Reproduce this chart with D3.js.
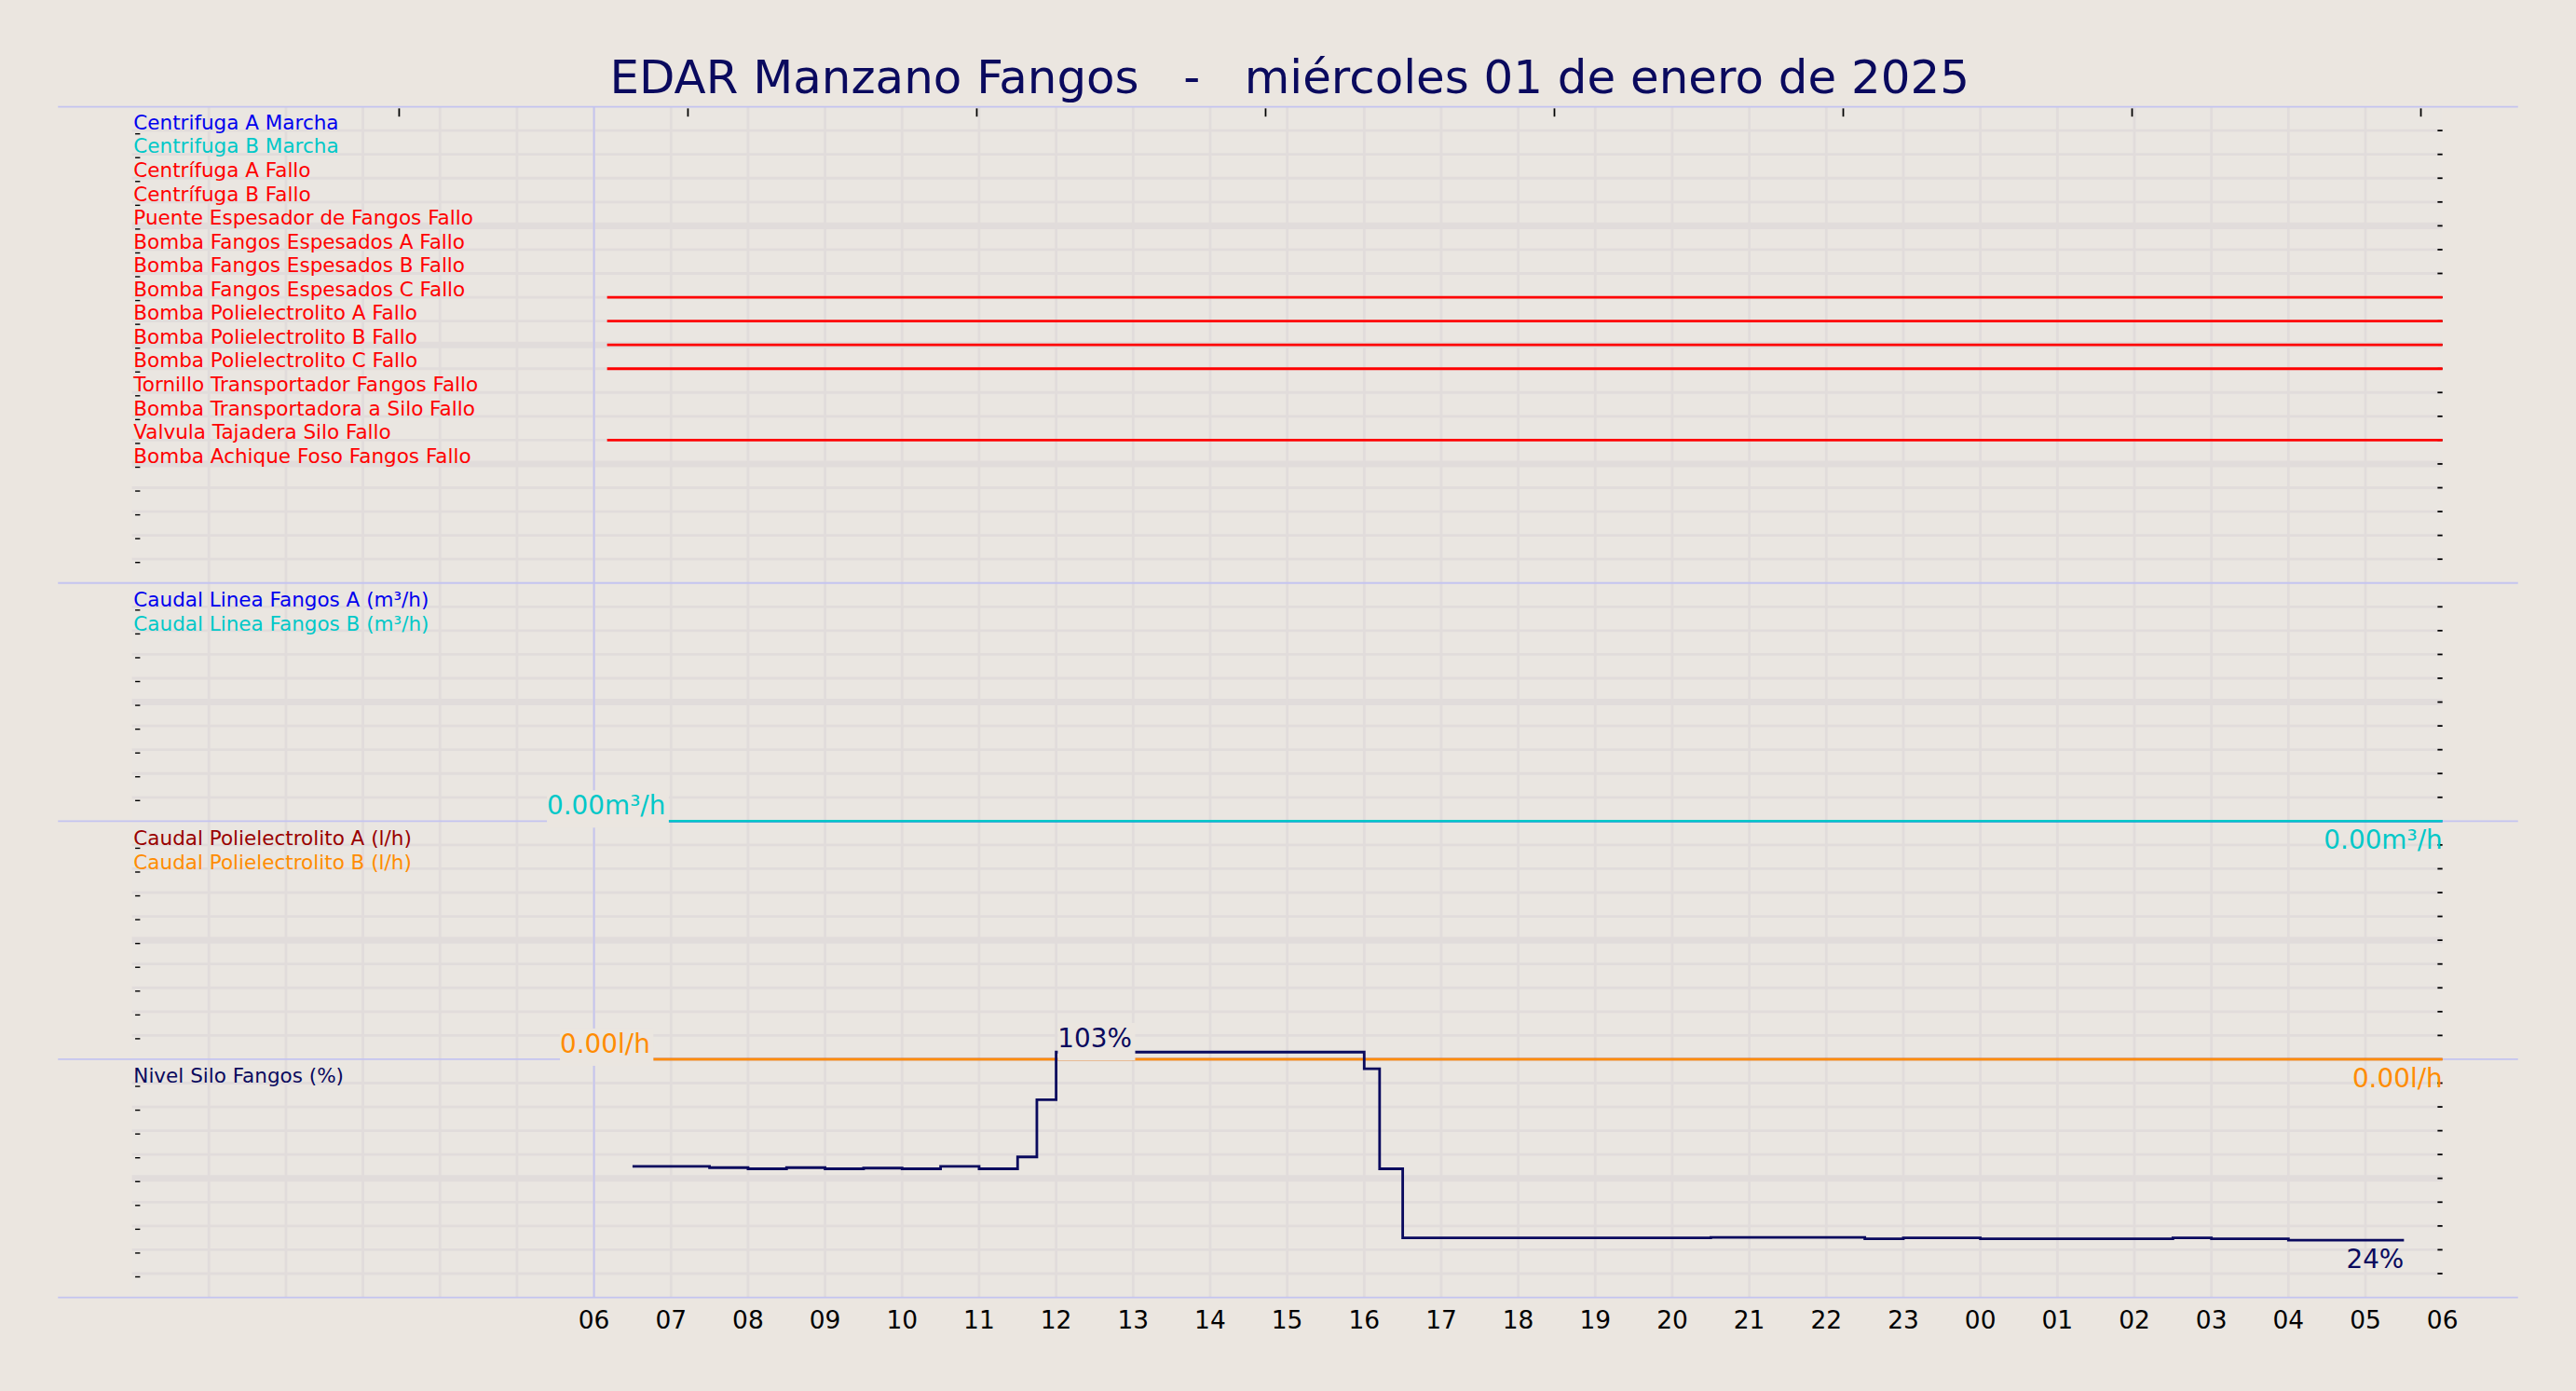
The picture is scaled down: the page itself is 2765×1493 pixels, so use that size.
<!DOCTYPE html>
<html><head><meta charset="utf-8">
<script src="https://cdn.jsdelivr.net/npm/d3@7"></script>
<style>html,body{margin:0;padding:0;background:#ebe6e0;}</style>
</head><body>
<script>
const title = "EDAR Manzano Fangos   -   miércoles 01 de enero de 2025";
const digitalNames = ["Centrifuga A Marcha","Centrifuga B Marcha","Centrífuga A Fallo","Centrífuga B Fallo","Puente Espesador de Fangos Fallo","Bomba Fangos Espesados A Fallo","Bomba Fangos Espesados B Fallo","Bomba Fangos Espesados C Fallo","Bomba Polielectrolito A Fallo","Bomba Polielectrolito B Fallo","Bomba Polielectrolito C Fallo","Tornillo Transportador Fangos Fallo","Bomba Transportadora a Silo Fallo","Valvula Tajadera Silo Fallo","Bomba Achique Foso Fangos Fallo"];
const digitalColors = ["#0000ee","#00c8c8","#ff0000","#ff0000","#ff0000","#ff0000","#ff0000","#ff0000","#ff0000","#ff0000","#ff0000","#ff0000","#ff0000","#ff0000","#ff0000"];
const digitalActive = [null,null,null,null,null,null,null,[6.17,30],[6.17,30],[6.17,30],[6.17,30],null,null,[6.17,30],null];
const flowNames = ["Caudal Linea Fangos A (m³/h)","Caudal Linea Fangos B (m³/h)"];
const flowColors = ["#0000ee","#00c8c8"];
const flowValues = [[6.95,0],[30,0]];
const polyNames = ["Caudal Polielectrolito A (l/h)","Caudal Polielectrolito B (l/h)"];
const polyColors = ["#990000","#ff8c00"];
const polyValues = [[6.75,0],[30,0]];
const siloName = "Nivel Silo Fangos (%)";
const siloTimes = [6.5,7.5,8.0,8.5,9.0,9.5,10.0,10.5,11.0,11.5,11.75,12.0,16.0,16.2,16.5,20.5,22.5,23.0,24.0,26.5,27.0,28.0,29.5];
const siloValues= [55,54.5,54,54.5,54,54.3,54,55,54,59,83,103,96,54,25,25.2,24.6,25,24.6,25,24.6,24,24];
const hourLabels = ["06","07","08","09","10","11","12","13","14","15","16","17","18","19","20","21","22","23","00","01","02","03","04","05","06"];

const W=1568,H=847;
const svg=d3.select("body").append("svg").attr("width",2765).attr("height",1493)
  .attr("viewBox",`0 0 ${W} ${H}`).style("font-family","DejaVu Sans");
svg.append("rect").attr("width",W).attr("height",H).attr("fill","#ebe6e0");
const L=80,R=1487;
const x=d3.scaleLinear().domain([0,30]).range([L,R]);
const panels=[[65,355,20],[355,500,10],[500,645,10],[645,790,10]];
const bg=svg.append("g");
bg.append("rect").attr("x",L).attr("y",65).attr("width",R-L).attr("height",725).attr("fill","#eae6e1");
for(const [t,b,n] of panels){
  const ys=d3.scaleLinear().domain([0,n]).range([t,b]);
  for(let i=1;i<n;i++){
    bg.append("line").attr("x1",L).attr("x2",R).attr("y1",ys(i)).attr("y2",ys(i))
      .attr("stroke","#e1dcdb").attr("stroke-width",i%5===0?4:1.6);
    bg.append("line").attr("x1",R-3).attr("x2",R).attr("y1",ys(i)).attr("y2",ys(i)).attr("stroke","#000").attr("stroke-width",1);
    bg.append("line").attr("x1",L+2).attr("x2",L+5).attr("y1",ys(i)+2).attr("y2",ys(i)+2).attr("stroke","#000").attr("stroke-width",0.8);
  }
}
for(let h=1;h<30;h++){
  bg.append("line").attr("x1",x(h)).attr("x2",x(h)).attr("y1",65).attr("y2",790).attr("stroke","#e1dcdb").attr("stroke-width",1.6);
}
for(let h=3.47;h<30;h+=3.75){
  bg.append("line").attr("x1",x(h)).attr("x2",x(h)).attr("y1",66).attr("y2",71).attr("stroke","#000").attr("stroke-width",1);
}
for(const y of [65,355,500,645,790]){
  bg.append("line").attr("x1",35).attr("x2",1533).attr("y1",y).attr("y2",y).attr("stroke","#c4c4f0").attr("stroke-width",1);
}
bg.append("line").attr("x1",x(6)).attr("x2",x(6)).attr("y1",65).attr("y2",790).attr("stroke","#c4c4f0").attr("stroke-width",1);

svg.append("text").attr("x",785).attr("y",57).attr("text-anchor","middle").attr("font-size",28.3)
  .attr("fill","#0a0a5e").style("white-space","pre").text(title);

const yd=d3.scaleLinear().domain([0,20]).range([65,355]);
const LF=12.2;
digitalNames.forEach((n,i)=>{
  svg.append("text").attr("x",81).attr("y",yd(i)+13.8).attr("font-size",LF).attr("fill",digitalColors[i]).text(n);
  if(digitalActive[i]) svg.append("line").attr("x1",x(digitalActive[i][0])).attr("x2",x(digitalActive[i][1]))
    .attr("y1",yd(i+1)).attr("y2",yd(i+1)).attr("stroke",digitalColors[i]).attr("stroke-width",1.6);
});
function labelBox(t){
  const bb=t.node().getBBox();
  svg.insert("rect",()=>t.node()).attr("x",bb.x).attr("y",bb.y).attr("width",bb.width+2).attr("height",bb.height+4).attr("fill","#ebe6e0");
}
function analogPanel(top,bot,names,colors,vals,unit){
  const y=d3.scaleLinear().domain([0,10]).range([bot,top]);
  names.forEach((n,i)=>svg.append("text").attr("x",81).attr("y",top+14.5+i*14.6).attr("font-size",LF).attr("fill",colors[i]).text(n));
  const line=d3.line().x(d=>x(d[0])).y(d=>y(d[1])).curve(d3.curveStepAfter);
  svg.append("path").attr("d",line(vals)).attr("fill","none").attr("stroke",colors[0]).attr("stroke-width",1.6).attr("stroke-opacity",0.5);
  svg.append("path").attr("d",line(vals)).attr("fill","none").attr("stroke",colors[1]).attr("stroke-width",1.4);
  const t1=svg.append("text").attr("x",x(vals[0][0])-1).attr("y",y(vals[0][1])-4).attr("text-anchor","end").attr("font-size",15.8).attr("fill",colors[1]).text(vals[0][1].toFixed(2)+unit);
  labelBox(t1);
  svg.append("text").attr("x",R).attr("y",y(vals[1][1])+17).attr("text-anchor","end").attr("font-size",15.8).attr("fill",colors[1]).text(vals[1][1].toFixed(2)+unit);
}
analogPanel(355,500,flowNames,flowColors,flowValues,"m³/h");
analogPanel(500,645,polyNames,polyColors,polyValues,"l/h");
const ys=d3.scaleLinear().domain([0,100]).range([790,645]);
svg.append("text").attr("x",81).attr("y",659.5).attr("font-size",LF).attr("fill","#0a0a5e").text(siloName);
const sd=siloTimes.map((t,i)=>[t,siloValues[i]]);
svg.append("path").attr("d",d3.line().x(d=>x(d[0])).y(d=>ys(d[1])).curve(d3.curveStepAfter)(sd))
  .attr("fill","none").attr("stroke","#0a0a5e").attr("stroke-width",1.6);
const mi=siloValues.indexOf(d3.max(siloValues));
const mt=svg.append("text").attr("x",x(siloTimes[mi])+1).attr("y",ys(siloValues[mi])-3).attr("font-size",15.8).attr("fill","#0a0a5e").text(siloValues[mi]+"%");
labelBox(mt);
svg.append("text").attr("x",x(siloTimes[siloTimes.length-1])).attr("y",ys(siloValues[siloValues.length-1])+17).attr("text-anchor","end").attr("font-size",15.8).attr("fill","#0a0a5e").text(siloValues[siloValues.length-1]+"%");
hourLabels.forEach((l,i)=>svg.append("text").attr("x",x(6+i)).attr("y",809).attr("text-anchor","middle").attr("font-size",15).attr("fill","#000").text(l));
</script>
</body></html>
